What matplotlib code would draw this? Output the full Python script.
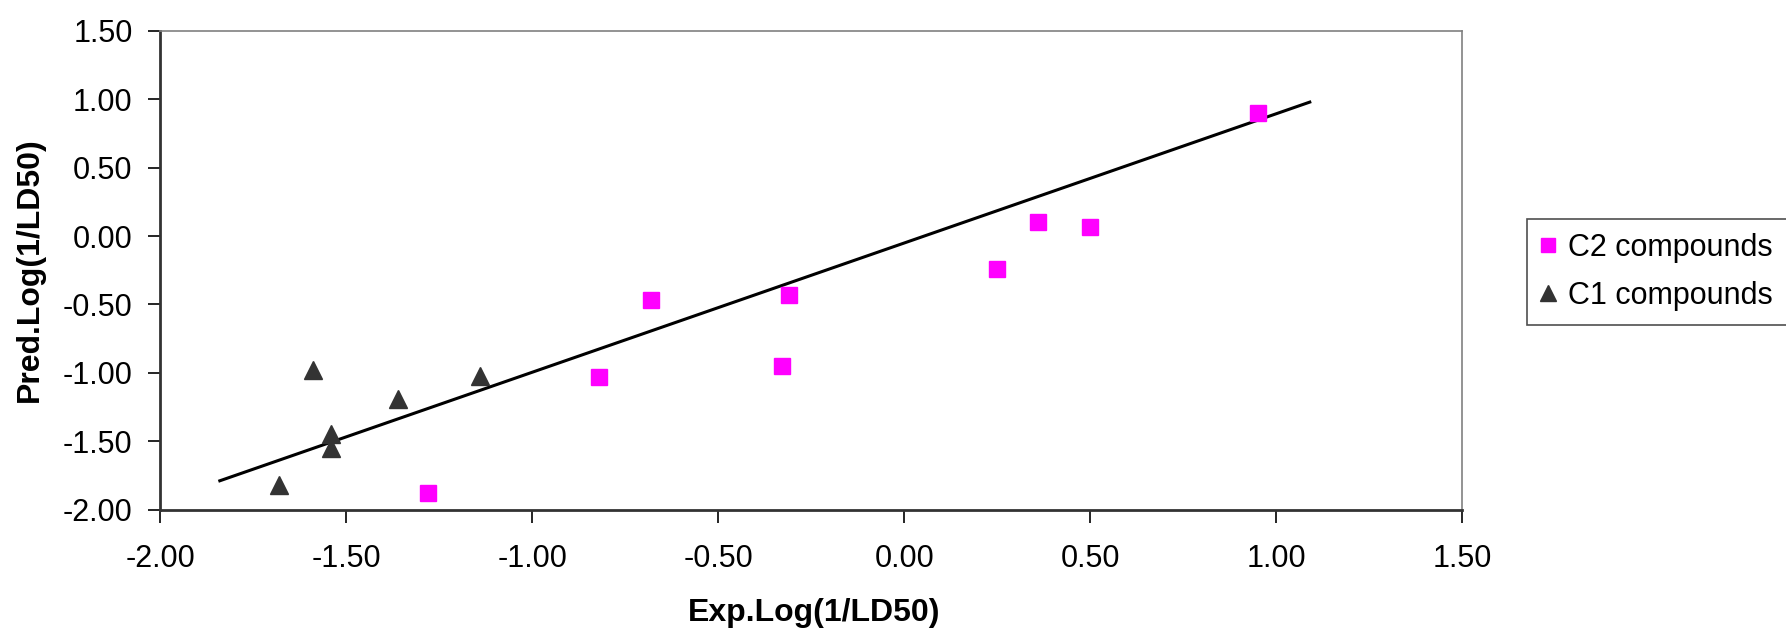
import matplotlib
matplotlib.use("Agg")
import matplotlib.pyplot as plt
from matplotlib.lines import Line2D

plt.rcParams['font.family'] = ['Liberation Sans', 'DejaVu Sans']

# Data
c2_x = [0.95, 0.36, 0.50, 0.25, -0.31, -0.68, -0.33, -0.82, -1.28]
c2_y = [0.90, 0.10, 0.07, -0.24, -0.43, -0.47, -0.95, -1.03, -1.88]
c1_x = [-1.59, -1.14, -1.36, -1.54, -1.54, -1.68]
c1_y = [-0.98, -1.02, -1.19, -1.45, -1.55, -1.82]
line_x = [-1.84, 1.09]
line_y = [-1.79, 0.98]
ticks = [-2.0, -1.5, -1.0, -0.5, 0.0, 0.5, 1.0, 1.5]
yticks = [-2.0, -1.5, -1.0, -0.5, 0.0, 0.5, 1.0, 1.5]

W, H = 1786, 629
fig = plt.figure(figsize=(W / 100, H / 100), dpi=100)
left, right, top, bottom = 160.3, 1462.3, 31, 509.5
ax = fig.add_axes([left / W, 1 - bottom / H, (right - left) / W, (bottom - top) / H])

ax.plot(line_x, line_y, color='black', lw=2.2, zorder=2)
ax.plot(c2_x, c2_y, linestyle='none', marker='s', color='#FF00FF', ms=11,
        mec='#FF00FF', label='C2 compounds', zorder=3)
ax.plot(c1_x, c1_y, linestyle='none', marker='^', color='#333333', ms=13,
        mec='#333333', label='C1 compounds', zorder=3)

ax.set_xlim(-2.0, 1.5)
ax.set_ylim(-2.0, 1.5)
ax.set_xticks(ticks)
ax.set_yticks(yticks)
ax.set_xticklabels([f"{t:.2f}" for t in ticks])
ax.set_yticklabels([f"{t:.2f}" for t in yticks])
ax.tick_params(axis='both', direction='out', length=9, width=1.2, labelsize=22, colors='black')
ax.tick_params(axis='x', pad=16)
ax.tick_params(axis='y', pad=11)

for s in ['top', 'right']:
    ax.spines[s].set_color('#808080')
    ax.spines[s].set_linewidth(1.2)
for s in ['left', 'bottom']:
    ax.spines[s].set_color('#333333')
    ax.spines[s].set_linewidth(2.0)

ax.set_xlabel('Exp.Log(1/LD50)', fontsize=23, fontweight='bold', va='center')
ax.set_ylabel('Pred.Log(1/LD50)', fontsize=23, fontweight='bold', va='center')
ax.xaxis.set_label_coords((814 - left) / (right - left), (bottom - 613) / (bottom - top))
ax.yaxis.set_label_coords((30 - left) / (right - left), (bottom - 270) / (bottom - top))

handles = [Line2D([], [], linestyle='none', marker='s', color='#FF00FF', ms=10),
           Line2D([], [], linestyle='none', marker='^', color='#333333', ms=12)]
leg = fig.legend(handles, ['C2 compounds', 'C1 compounds'], loc='upper left',
                 bbox_to_anchor=(1527 / W, 1 - 219 / H), fontsize=22,
                 frameon=True, fancybox=False, edgecolor='#222222',
                 handlelength=0.5, handletextpad=0.4, borderpad=0.45,
                 labelspacing=0.6, borderaxespad=0)
leg.get_frame().set_linewidth(1.2)

fig.savefig('out.png', dpi=100, facecolor='white')
